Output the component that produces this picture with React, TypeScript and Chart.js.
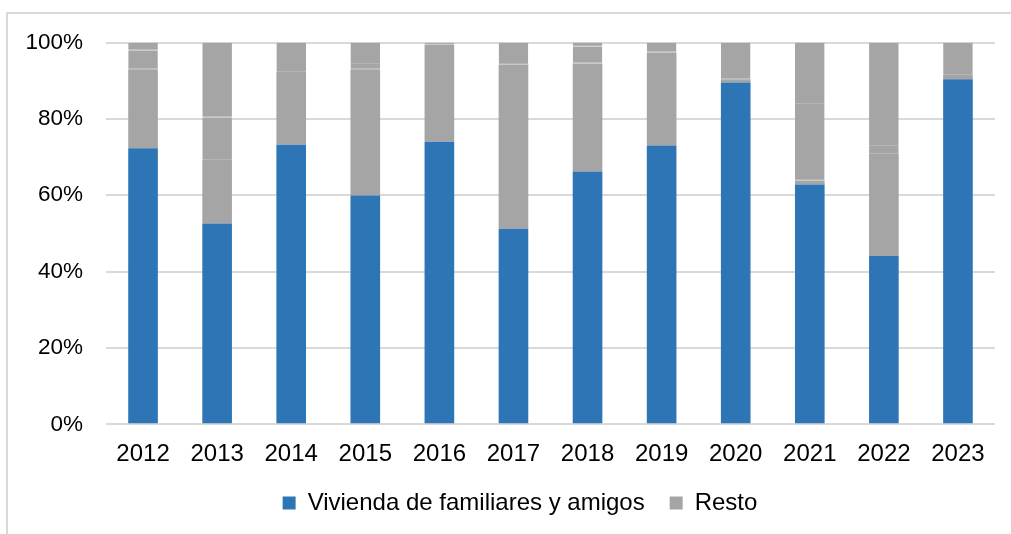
import React, { useEffect, useRef } from "react";
import { Chart, registerables } from "chart.js";

Chart.register(...registerables);

const years = ["2012", "2013", "2014", "2015", "2016", "2017", "2018", "2019", "2020", "2021", "2022", "2023"];
const vivienda = [72.3, 52.6, 73.2, 59.9, 74.0, 51.2, 66.2, 73.0, 89.5, 62.8, 44.1, 90.4];
// "Resto" is made of several grey sub-segments (faint lines between them)
const resto1 = [20.7, 16.6, 19.1, 33.1, 25.4, 43.0, 28.3, 24.4, 0.9, 1.0, 26.7, 1.1];
const resto2 = [5.0, 11.2, 7.7, 1.4, 0.6, 5.8, 4.4, 2.6, 9.6, 20.1, 2.1, 8.5];
const resto3 = [2.0, 19.6, 0, 5.6, 0, 0, 1.1, 0, 0, 16.1, 27.1, 0];
const yTicks = [0, 20, 40, 60, 80, 100];

const BLUE = "#2E75B6";
const GREY = "#A5A5A5";
const LINE = "#B6B6B6";
const FONT = "'Liberation Sans', Arial, sans-serif";

export default function App() {
  const ref = useRef<HTMLCanvasElement | null>(null);

  useEffect(() => {
    if (!ref.current) return;
    const sub = (label: string, data: number[]) => ({
      label,
      data,
      backgroundColor: GREY,
      borderColor: LINE,
      borderWidth: { top: 0, left: 0, right: 0, bottom: 1 },
      borderSkipped: false as const,
      stack: "s",
    });
    const chart = new Chart(ref.current, {
      type: "bar",
      data: {
        labels: years,
        datasets: [
          { label: "Vivienda de familiares y amigos", data: vivienda, backgroundColor: BLUE, borderWidth: 0, stack: "s" },
          { label: "Resto", data: resto1, backgroundColor: GREY, borderWidth: 0, stack: "s" },
          sub("Resto ", resto2),
          sub("Resto  ", resto3),
        ],
      },
      options: {
        responsive: false,
        animation: false,
        layout: { padding: { top: 28.5, left: 0, right: 0, bottom: 29 } },
        datasets: { bar: { barPercentage: 0.4, categoryPercentage: 1.0 } },
        plugins: {
          tooltip: { enabled: false },
          title: { display: false },
          legend: {
            position: "bottom",
            labels: {
              boxWidth: 13,
              boxHeight: 13,
              padding: 25,
              color: "#000",
              font: { family: FONT, size: 24 },
              filter: (item) => (item.datasetIndex ?? 0) <= 1,
            },
          },
        },
        scales: {
          x: {
            stacked: true,
            grid: { display: false, drawTicks: false },
            border: { display: false },
            ticks: { color: "#000", padding: 15.5, font: { family: FONT, size: 24 } },
            afterFit: (s) => {
              s.height = 41.7;
            },
          },
          y: {
            stacked: true,
            min: 0,
            max: 100,
            afterBuildTicks: (s) => {
              s.ticks = yTicks.map((v) => ({ value: v }));
            },
            afterFit: (s) => {
              s.width = 98;
              s.paddingTop = 0;
              s.paddingBottom = 0;
            },
            grid: { color: "#D9D9D9", lineWidth: 2, drawTicks: false },
            border: { display: false },
            ticks: {
              color: "#000",
              padding: 23,
              font: { family: FONT, size: 22.5 },
              callback: (v) => `${v}%`,
            },
          },
          y2: {
            position: "right",
            display: true,
            grid: { display: false, drawTicks: false },
            border: { display: false },
            ticks: { display: false },
            afterFit: (s) => {
              s.width = 37;
              s.paddingTop = 0;
              s.paddingBottom = 0;
            },
          },
        },
      },
    });
    return () => chart.destroy();
  }, []);

  return (
    <div style={{ position: "fixed", left: 0, top: 0, width: 1011, height: 534, overflow: "hidden", background: "#fff" }}>
      <div
        style={{
          position: "absolute",
          left: 6,
          top: 12,
          width: 1030,
          height: 560,
          borderTop: "2px solid #D9D9D9",
          borderLeft: "2px solid #D9D9D9",
        }}
      >
        <canvas ref={ref} width={1024} height={540} style={{ position: "absolute", left: 0, top: 0, width: 1024, height: 540 }} />
      </div>
    </div>
  );
}
